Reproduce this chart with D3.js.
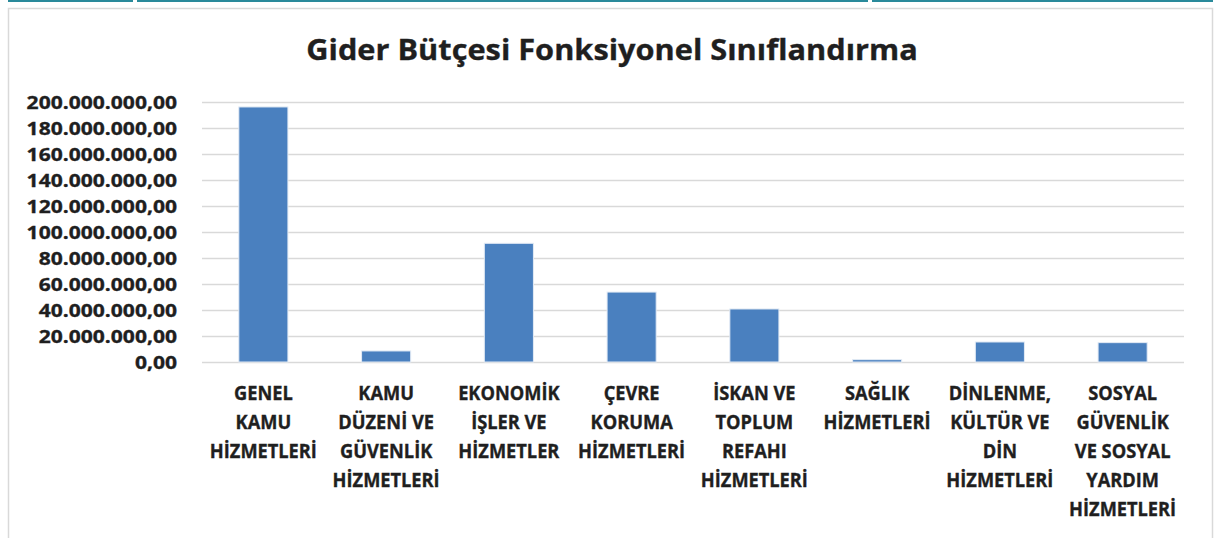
<head>
  <title>Gider Bütçesi Fonksiyonel Sınıflandırma</title>
  <meta charset="UTF-8">
  <script src="https://d3js.org/d3.v7.min.js"></script>
  <style>
    body { margin:0; background:#fff; }
    text { font-family:"Open Sans", sans-serif; font-weight:700; fill:#1f1f1f;
	   stroke:#1f1f1f; stroke-width:0.35px; }
  </style>
</head>
<body>
  <div id="graphContainer"></div>
  <script>

    // Chart data
    const categories = ["GENEL KAMU HİZMETLERİ", "KAMU DÜZENİ VE GÜVENLİK HİZMETLERİ",
			"EKONOMİK İŞLER VE HİZMETLER", "ÇEVRE KORUMA HİZMETLERİ",
			"İSKAN VE TOPLUM REFAHI HİZMETLERİ", "SAĞLIK HİZMETLERİ",
			"DİNLENME, KÜLTÜR VE DİN HİZMETLERİ",
			"SOSYAL GÜVENLİK VE SOSYAL YARDIM HİZMETLERİ"];
    const labelLines = [["GENEL","KAMU","HİZMETLERİ"],
			["KAMU","DÜZENİ VE","GÜVENLİK","HİZMETLERİ"],
			["EKONOMİK","İŞLER VE","HİZMETLER"],
			["ÇEVRE","KORUMA","HİZMETLERİ"],
			["İSKAN VE","TOPLUM","REFAHI","HİZMETLERİ"],
			["SAĞLIK","HİZMETLERİ"],
			["DİNLENME,","KÜLTÜR VE","DİN","HİZMETLERİ"],
			["SOSYAL","GÜVENLİK","VE SOSYAL","YARDIM","HİZMETLERİ"]];
    const amounts = [196200000, 8500000, 91300000, 53800000,
		     40800000, 1800000, 15400000, 14900000];
    const yTicks = [0, 20000000, 40000000, 60000000, 80000000, 100000000,
		    120000000, 140000000, 160000000, 180000000, 200000000];

    const W = 1215, H = 538;
    const trNum = d3.formatLocale({decimal:",", thousands:".", grouping:[3], currency:["","₺"]}).format(",.2f");

    const svg = d3.select("#graphContainer")
	  .append("svg")
	  .attr("width", W)
	  .attr("height", H);

    // top strip and chart border
    [[8,133],[137,868],[872,1213]].forEach(s => {
	svg.append("line").attr("x1", s[0]).attr("x2", s[1]).attr("y1", 1).attr("y2", 1)
	    .attr("stroke", "#2a8a9b").attr("stroke-width", 2);
    });
    svg.append("path")
	.attr("d", "M8.5,538 V8.5 H1212.5 V538")
	.attr("fill", "none").attr("stroke", "#d9d9d9").attr("stroke-width", 1.5);

    // Title
    svg.append("text")
	.attr("transform", "translate(612,60) scale(1.06,1)")
	.attr("text-anchor", "middle")
	.style("font-size", "29px")
	.text("Gider Bütçesi Fonksiyonel Sınıflandırma");

    // scales
    const x = d3.scaleBand()
	  .domain(categories)
	  .range([202, 1184])
	  .paddingInner(0.6)
	  .paddingOuter(0.3);
    const y = d3.scaleLinear()
	  .domain([0, 200000000])
	  .range([362, 102]);

    // Y axis with gridlines
    const yAxis = svg.append("g")
	  .attr("transform", "translate(202,0)")
	  .call(d3.axisLeft(y).tickValues(yTicks).tickSize(0).tickFormat(""));
    yAxis.select(".domain").remove();
    yAxis.selectAll(".tick").append("line")
	.attr("x1", 0).attr("x2", 1184 - 202)
	.attr("stroke", "#d9d9d9").attr("stroke-width", 1.5);
    yAxis.selectAll(".tick").append("text")
	.attr("transform", "translate(-25,0) scale(1.17,1)")
	.attr("text-anchor", "end")
	.attr("dy", "0.36em")
	.style("font-size", "18px")
	.text(d => trNum(d));

    // Bars
    svg.selectAll("myBar")
	.data(amounts)
	.join("rect")
	.attr("x", (d, i) => x(categories[i]))
	.attr("y", d => y(d))
	.attr("width", x.bandwidth())
	.attr("height", d => y(0) - y(d))
	.attr("fill", "#4a80bf")
	.attr("stroke", "#e3ebf5")
	.attr("stroke-width", 1);

    // X labels, wrapped like the original
    const xAxis = svg.append("g")
	  .attr("transform", "translate(0,362)")
	  .call(d3.axisBottom(x).tickSize(0).tickFormat(""));
    xAxis.select(".domain").remove();
    xAxis.selectAll(".tick").each(function(d, i) {
	const g = d3.select(this);
	labelLines[i].forEach((ln, k) => {
	    g.append("text")
		.attr("transform", `translate(0,${38 + k * 29}) scale(0.96,1)`)
		.attr("text-anchor", "middle")
		.style("font-size", "19px")
		.text(ln);
	});
    });

  </script>
</body>
